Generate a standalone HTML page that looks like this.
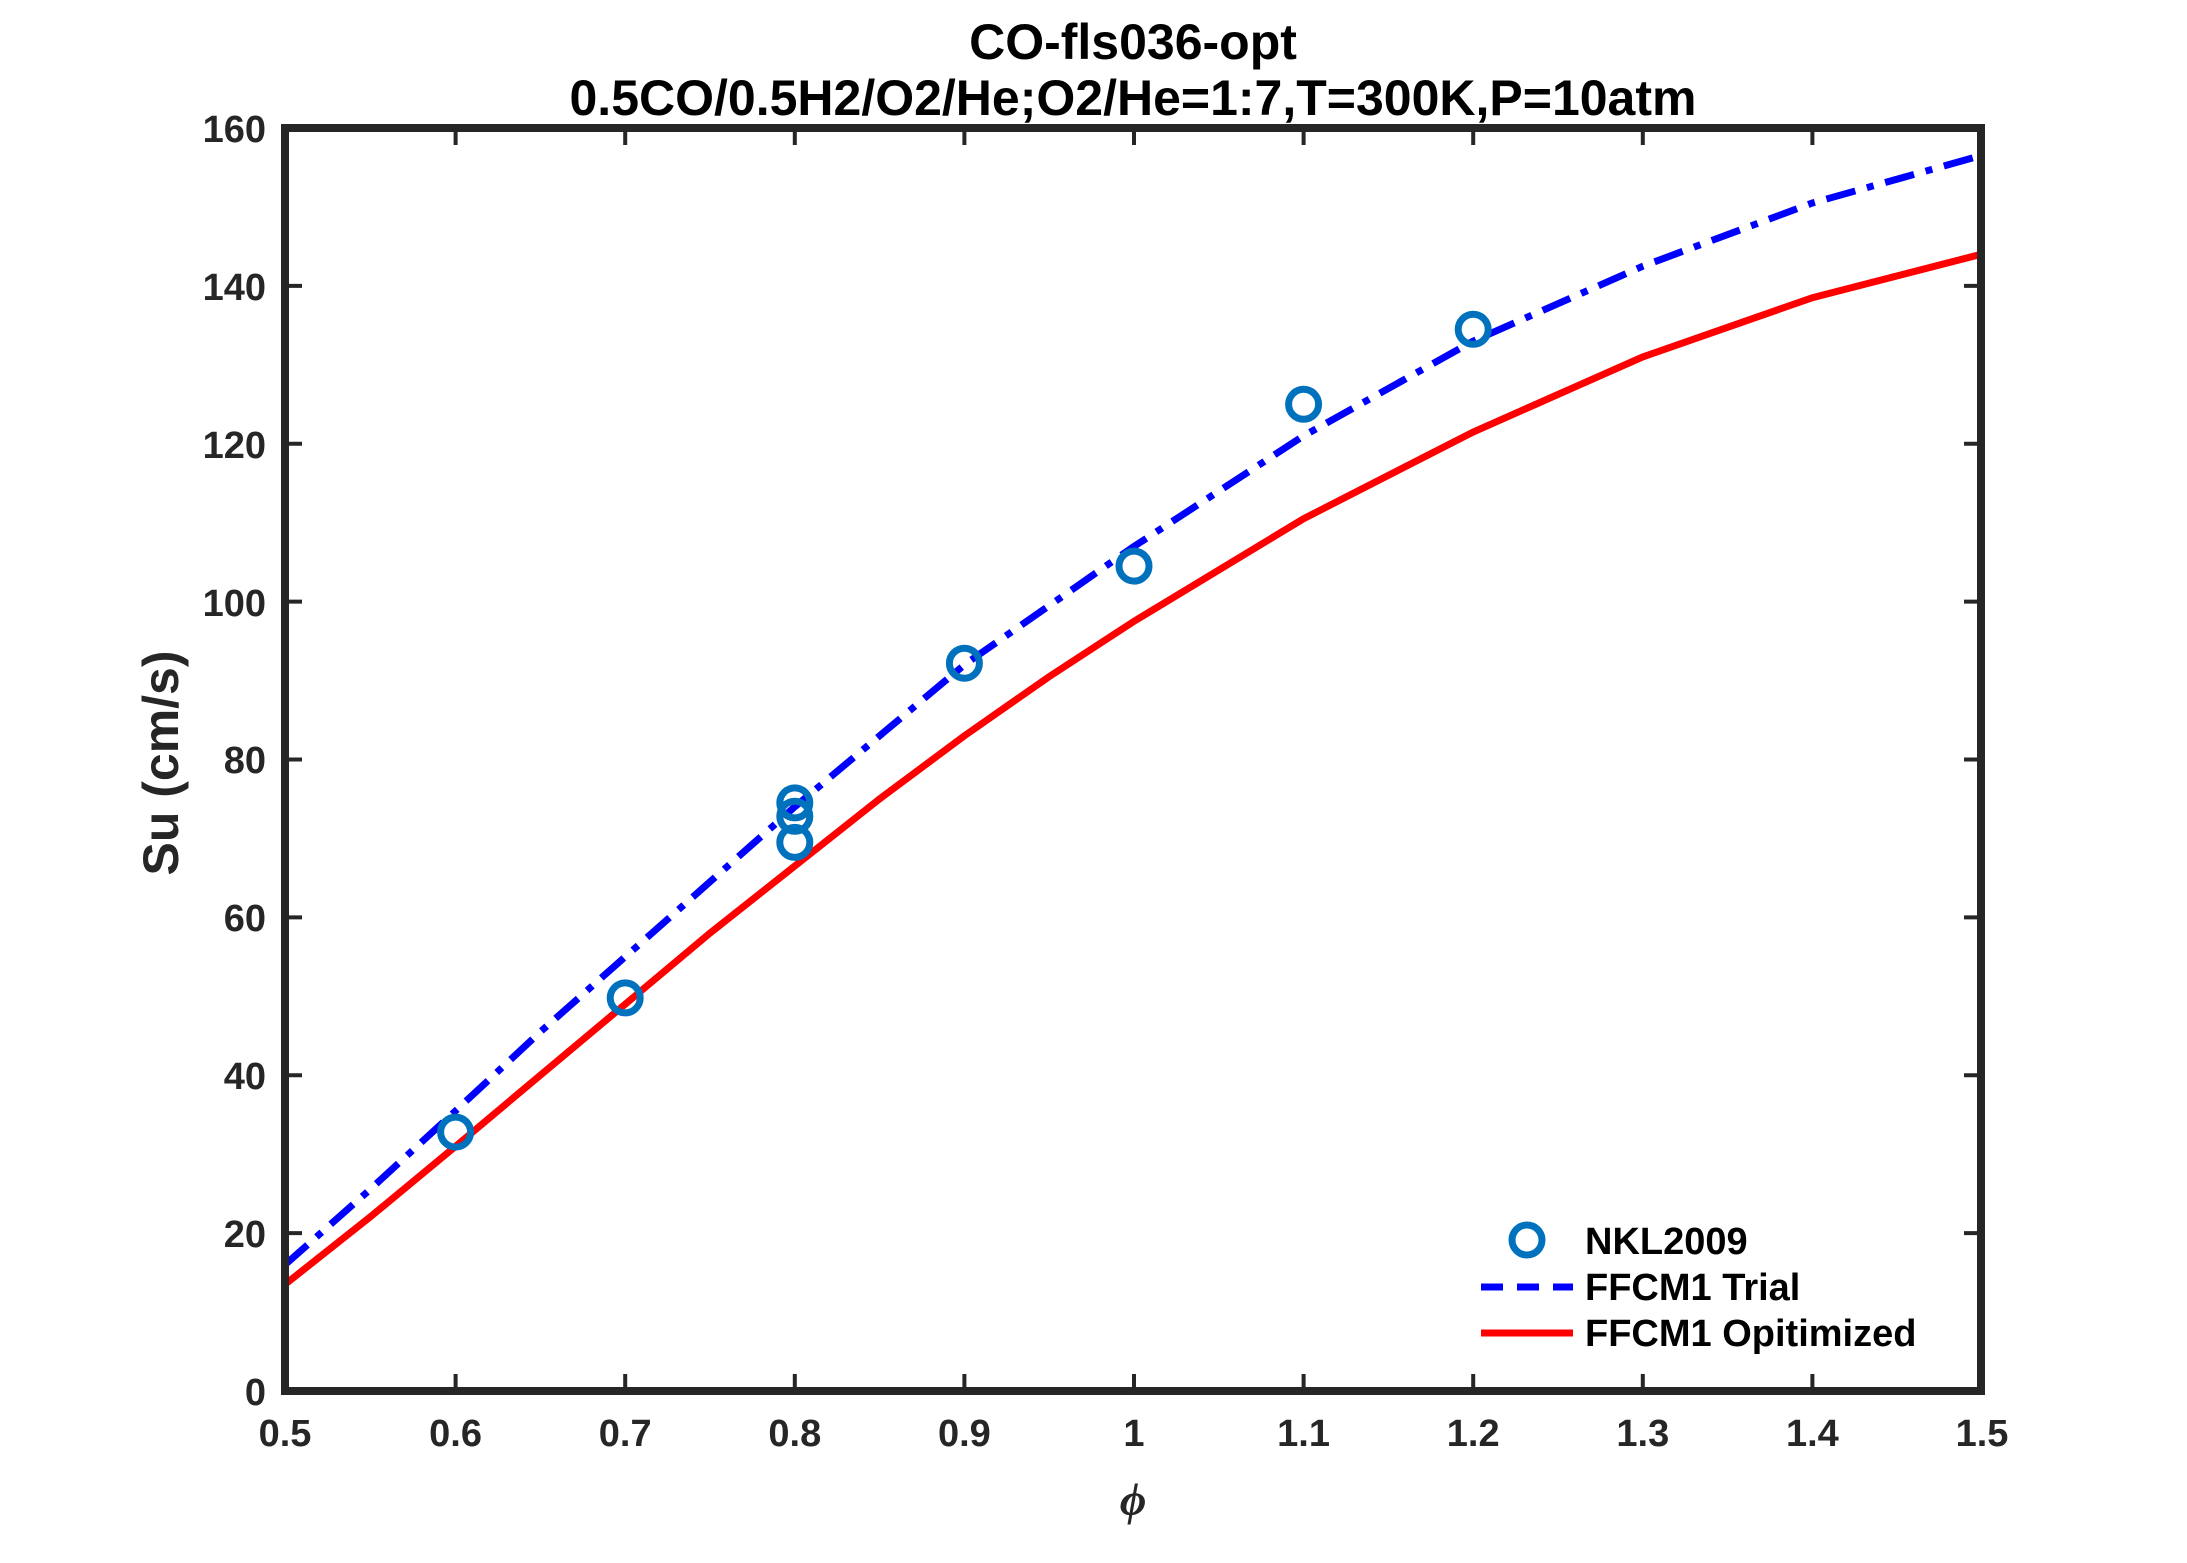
<!DOCTYPE html>
<html><head><meta charset="utf-8"><style>body{margin:0;background:#fff}svg{display:block}text{font-family:"Liberation Sans",sans-serif;font-weight:bold}</style></head>
<body>
<svg width="2187" height="1563" viewBox="0 0 2187 1563" xmlns="http://www.w3.org/2000/svg">
<rect width="2187" height="1563" fill="#fff"/>
<g font-size="50" fill="#000" text-anchor="middle">
<text x="1133" y="59">CO-fls036-opt</text>
<text x="1133" y="115">0.5CO/0.5H2/O2/He;O2/He=1:7,T=300K,P=10atm</text>
</g>
<g stroke="#262626" stroke-width="4">
<path d="M455.6,1391v-17M625.2,1391v-17M794.8,1391v-17M964.4,1391v-17M1134,1391v-17M1303.6,1391v-17M1473.2,1391v-17M1642.8,1391v-17M1812.4,1391v-17"/>
<path d="M455.6,128v17M625.2,128v17M794.8,128v17M964.4,128v17M1134,128v17M1303.6,128v17M1473.2,128v17M1642.8,128v17M1812.4,128v17"/>
<path d="M285,1233.1h17M285,1075.3h17M285,917.4h17M285,759.5h17M285,601.6h17M285,443.8h17M285,285.9h17"/>
<path d="M1981,1233.1h-17M1981,1075.3h-17M1981,917.4h-17M1981,759.5h-17M1981,601.6h-17M1981,443.8h-17M1981,285.9h-17"/>
</g>
<g font-size="38" fill="#262626" text-anchor="middle">
<text x="285" y="1446">0.5</text><text x="455.6" y="1446">0.6</text><text x="625.2" y="1446">0.7</text><text x="794.8" y="1446">0.8</text><text x="964.4" y="1446">0.9</text><text x="1134" y="1446">1</text><text x="1303.6" y="1446">1.1</text><text x="1473.2" y="1446">1.2</text><text x="1642.8" y="1446">1.3</text><text x="1812.4" y="1446">1.4</text><text x="1982" y="1446">1.5</text>
</g>
<g font-size="38" fill="#262626" text-anchor="end">
<text x="266" y="1405">0</text><text x="266" y="1247">20</text><text x="266" y="1089">40</text><text x="266" y="931">60</text><text x="266" y="773">80</text><text x="266" y="616">100</text><text x="266" y="458">120</text><text x="266" y="300">140</text><text x="266" y="142">160</text>
</g>
<text x="178" y="763" font-size="50" fill="#262626" text-anchor="middle" transform="rotate(-90 178 763)">Su (cm/s)</text>
<text x="1133" y="1515" font-size="46" fill="#262626" text-anchor="middle" font-style="italic" font-weight="normal" style="font-family:'Liberation Serif',serif">ϕ</text>
<polyline fill="none" stroke="#0000ff" stroke-width="7" stroke-dasharray="30 12 7 12" points="285,1264.7 369.8,1189.7 455.6,1110.8 540.4,1031.8 625.2,956.8 710,881.8 794.8,806.8 879.6,735.8 964.4,664.8 1049.2,605.6 1134,546.4 1303.6,435.9 1473.2,341.1 1642.8,266.2 1812.4,203 1981,155.6"/>
<polyline fill="none" stroke="#ff0000" stroke-width="7" points="285,1284.4 369.8,1217.3 455.6,1146.3 540.4,1075.2 625.2,1004.2 710,933.1 794.8,866 879.6,798.9 964.4,735.8 1049.2,676.6 1134,621.3 1303.6,518.7 1473.2,432 1642.8,356.9 1812.4,297.7 1981,254.3"/>
<g fill="none" stroke="#0072bd" stroke-width="7">
<circle cx="455.6" cy="1132.1" r="15"/><circle cx="625.2" cy="997.9" r="15"/><circle cx="794.8" cy="802.9" r="15"/><circle cx="794.8" cy="816.3" r="15"/><circle cx="794.8" cy="842.4" r="15"/><circle cx="964.4" cy="663.2" r="15"/><circle cx="1134" cy="566.1" r="15"/><circle cx="1303.6" cy="404.3" r="15"/><circle cx="1473.2" cy="329.3" r="15"/>
<circle cx="1527" cy="1240" r="15"/>
</g>
<line x1="1481" y1="1287" x2="1573" y2="1287" stroke="#0000ff" stroke-width="7" stroke-dasharray="22 14"/>
<line x1="1481" y1="1333" x2="1573" y2="1333" stroke="#ff0000" stroke-width="7"/>
<g font-size="38" fill="#000">
<text x="1585" y="1254">NKL2009</text><text x="1585" y="1300">FFCM1 Trial</text><text x="1585" y="1346">FFCM1 Opitimized</text>
</g>
<rect x="285" y="128" width="1696" height="1263" fill="none" stroke="#262626" stroke-width="8"/>
</svg>
</body></html>
